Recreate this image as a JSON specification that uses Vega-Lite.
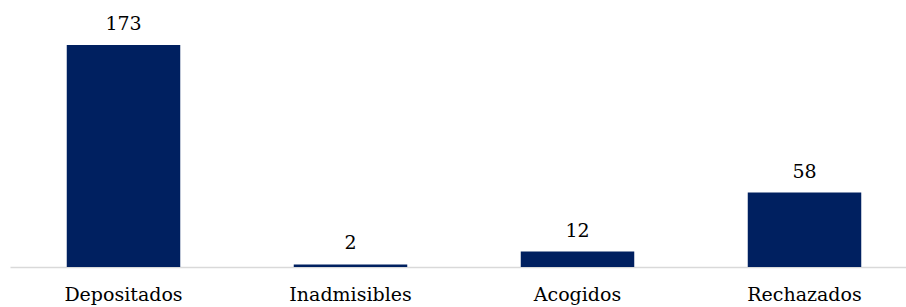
{
  "$schema": "https://vega.github.io/schema/vega-lite/v6.json",
  "autosize": {"type": "none"},
  "padding": {"left": 10, "top": 45, "right": 0, "bottom": 40},
  "width": 908,
  "height": 222,
  "background": "white",
  "config": {"view": {"stroke": null}},
  "data": {"values": [
    {"categoria": "Depositados", "valor": 173},
    {"categoria": "Inadmisibles", "valor": 2},
    {"categoria": "Acogidos", "valor": 12},
    {"categoria": "Rechazados", "valor": 58}
  ]},
  "encoding": {
    "x": {"field": "categoria", "type": "nominal", "sort": null,
      "scale": {"paddingInner": 0.5, "paddingOuter": 0.25},
      "axis": {"title": null, "labelAngle": 0, "ticks": false, "domainColor": "#d9d9d9", "domainWidth": 1.5,
        "labelFont": "DejaVu Serif", "labelFontSize": 19, "labelColor": "#000000", "labelPadding": 18}},
    "y": {"field": "valor", "type": "quantitative", "scale": {"domain": [0, 173], "nice": false}, "axis": null}
  },
  "layer": [
    {"mark": {"type": "bar", "color": "#002060"}},
    {"mark": {"type": "text", "baseline": "alphabetic", "dy": -15, "font": "DejaVu Serif", "fontSize": 19, "color": "#000000"},
      "encoding": {"text": {"field": "valor", "type": "quantitative"}}}
  ]
}
